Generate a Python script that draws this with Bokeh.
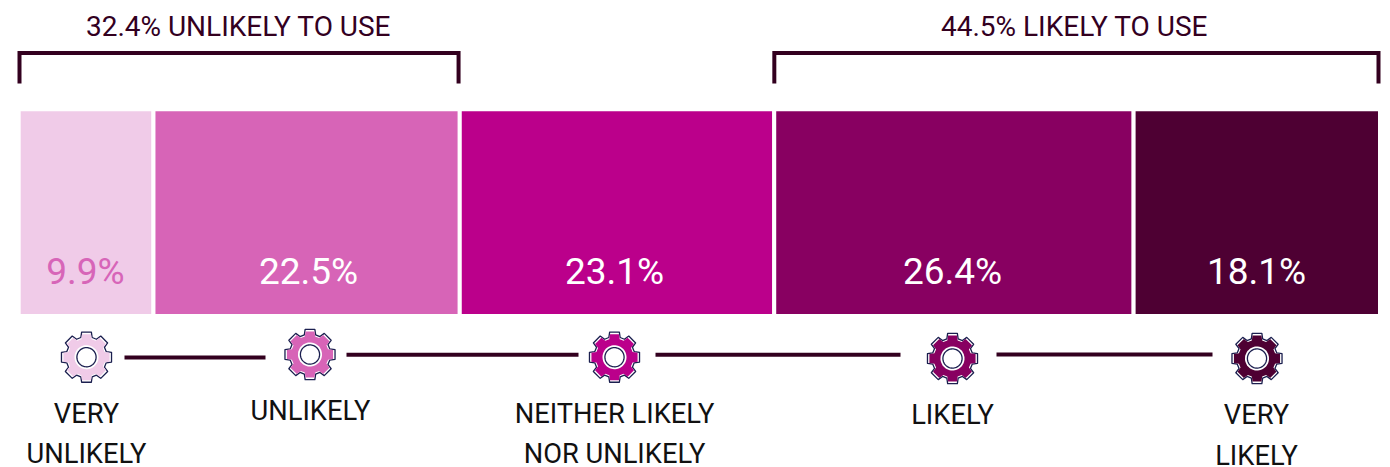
import numpy as np
from bokeh.plotting import figure
from bokeh.models import Range1d
from bokeh.core.properties import value
from bokeh.embed import file_html
from bokeh.resources import INLINE

# ---- data ----
categories = ["VERY UNLIKELY", "UNLIKELY", "NEITHER LIKELY NOR UNLIKELY", "LIKELY", "VERY LIKELY"]
shares = [9.9, 22.5, 23.1, 26.4, 18.1]
share_labels = ["9.9%", "22.5%", "23.1%", "26.4%", "18.1%"]
bracket_titles = ["32.4% UNLIKELY TO USE", "44.5% LIKELY TO USE"]
unlikely_total = 32.4
likely_total = 44.5

# ---- styles ----
colors = ["#F0CBE8", "#D764B7", "#BB008B", "#880061", "#4E0033"]
label_colors = ["#D765B8", "#FFFFFF", "#FFFFFF", "#FFFFFF", "#FFFFFF"]
DARK = "#33001F"
NAVY = "#1B1F4F"
INK = "#111111"
FONT = "Roboto"
FS_PCT, FS_TITLE, FS_CAT = 37, 28, 27.3
BASE_SHIFT = 0.37   # bokeh draws the alphabetic baseline this many ems lower

# ---- layout: page pixels ----
W, H = 1390, 467
PX0, PX100 = 18.2, 1379.5
k = (PX100 - PX0) / 100.0
def px(page_x):
    return (page_x - PX0) / k

p = figure(width=W, height=H, output_backend="svg", toolbar_location=None,
           x_range=Range1d(px(0), px(W)), y_range=Range1d(H, 0),
           min_border=0, outline_line_color=None, background_fill_color="white")
p.axis.visible = False
p.grid.visible = False

# bars
edges = np.concatenate([[0], np.cumsum(shares)])
p.quad(left=edges[:-1], right=edges[1:], top=108.7, bottom=315.5,
       fill_color=colors, line_color="white", line_width=4)

# percentage labels
label_x = [85, 308, 614, 952, 1256]
p.text(x=[px(v) for v in label_x], y=[285] * 5, text=share_labels, text_color=label_colors,
       y_offset=-BASE_SHIFT * FS_PCT,
       text_font=value(FONT), text_font_size=f"{FS_PCT}px", text_align="center", text_baseline="alphabetic")

# brackets
def bracket(a, b, inset_a, inset_b):
    xa, xb = a + inset_a / k, b - inset_b / k
    p.line([xa, xa, xb, xb], [83, 52.5, 52.5, 83], line_color=DARK, line_width=4, line_join="miter")
bracket(0, unlikely_total, 0.8, 1.2)
bracket(100 - likely_total, 100, 0.1, 1.5)
p.text(x=[px(238), px(1074)], y=[36, 36], text=bracket_titles, text_color=DARK,
       y_offset=-BASE_SHIFT * FS_TITLE,
       text_font=value(FONT), text_font_size=f"{FS_TITLE}px", text_align="center", text_baseline="alphabetic")

# connectors
for x0, x1, y in [(124, 265, 357), (346, 578, 354.3), (655, 900, 354.3), (996, 1212, 354)]:
    p.line([px(x0), px(x1)], [y, y], line_color=DARK, line_width=4)

# gears
def gear(cx, cy, R, r):
    xs, ys = [], []
    for i in range(8):
        a = -90 + i * 45
        for da, rad in [(-16, r), (-11, R), (11, R), (16, r)]:
            t = np.radians(a + da)
            xs.append(px(cx + rad * np.cos(t)))
            ys.append(cy + rad * np.sin(t))
    return xs, ys

centers = [(86, 356.7), (309.5, 354), (614, 356.7), (952, 358), (1256.5, 358)]
for (cx, cy), c in zip(centers, colors):
    xs, ys = gear(cx, cy, 25.5, 20.5)
    p.patch(xs, ys, fill_color="white", line_color=NAVY, line_width=1.3, line_join="round")
    xs, ys = gear(cx, cy, 23.5, 18.8)
    p.patch(xs, ys, fill_color=c, line_color=None)
    t = np.linspace(0, 2 * np.pi, 60)
    p.patch(px(cx) + 12 * np.cos(t) / k, cy + 12 * np.sin(t), fill_color="white", line_color=None)
    p.patch(px(cx) + 9.6 * np.cos(t) / k, cy + 9.6 * np.sin(t), fill_color="white", line_color=NAVY, line_width=1.3)

# category labels
line_x = [86, 86, 310, 614, 614, 952, 1256, 1256]
line_y = [424, 464, 421, 424, 464, 425, 425, 466]
line_t = ["VERY", "UNLIKELY", "UNLIKELY", "NEITHER LIKELY", "NOR UNLIKELY", "LIKELY", "VERY", "LIKELY"]
p.text(x=[px(v) for v in line_x], y=line_y, text=line_t, text_color=INK,
       y_offset=-BASE_SHIFT * FS_CAT,
       text_font=value(FONT), text_font_size=f"{FS_CAT}px", text_align="center", text_baseline="alphabetic")

open("out.html", "w").write(file_html(p, INLINE))
